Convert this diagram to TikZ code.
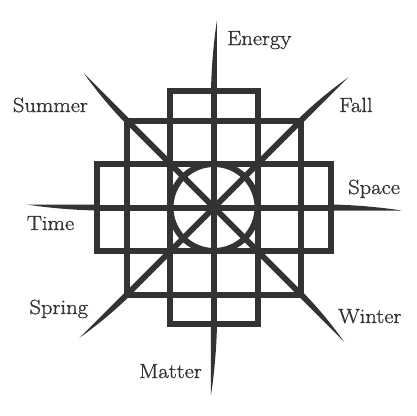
\documentclass[tikz,border=0pt]{standalone}
\usepackage{fontspec}
\setmainfont{Latin Modern Roman}[FakeBold=1.2,FakeStretch=1.1]
\usepackage{tikz}
\usetikzlibrary{calc}

\begin{document}
\begin{tikzpicture} [x=1pt,y=1pt]
\useasboundingbox (-214,-208.5) rectangle (202,207.5);
\tikzset{bar/.style={draw=black!80,line width=6pt},
  word/.style={anchor=base west,inner sep=0pt,text=black!80,font=\fontsize{20.5}{24}\selectfont}}

\draw[bar] (-44,-116.5) rectangle (44,116.5);
\draw[bar] (-87,-87) rectangle (87,87);
\draw[bar] (-117,-43.5) rectangle (117,43.5);
\draw[bar] (0,0) circle (43.5);

\draw[bar] (0,-117) -- (0,117);
\draw[bar] (-117,0) -- (117,0);
\draw[bar] (-87,-87) -- (87,87);
\draw[bar] (-87,87) -- (87,-87);

% thorns, turning clockwise at the tips
\foreach \a/\d in {0/117,90/116.5,180/117,270/116.5,45/123,135/123,225/123,315/123}
  \fill[black!80,rotate=\a] (\d,3) .. controls (\d+30,2.5) and (175,-1) .. (187.5,-3) -- (\d,-3) -- cycle;

\node[word] (energy) at (13,162.5) {Energy};
\node[word] (summer) at (-201.3,95.5) {Summer};
\node[word] (fall) at (125,95.5) {Fall};
\node[word] (space) at (134,13.5) {Space};
\node[word] (time) at (-187.3,-22.5) {Time};
\node[word] (spring) at (-184.7,-106.5) {Spring};
\node[word] (winter) at (124,-115.5) {Winter};
\node[word] (matter) at (-75,-170.5) {Matter};
\end{tikzpicture}
\end{document}
